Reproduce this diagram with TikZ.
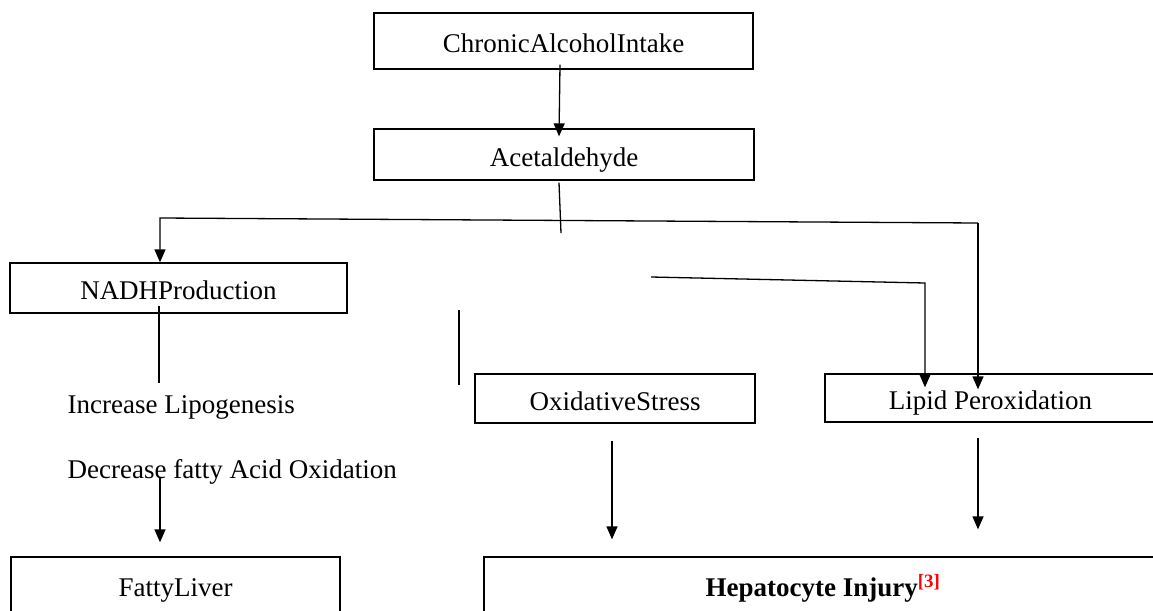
\documentclass[tikz,border=0pt]{standalone}
\usepackage{fontspec}
\setmainfont{Liberation Serif}
\usetikzlibrary{arrows.meta,calc}
\begin{document}
\begin{tikzpicture}[x=1pt,y=-1pt,line width=1.3pt,
  box/.style={draw,line width=1.3pt,inner sep=0pt,text height=25pt,text depth=2pt,font=\fontsize{27}{32}\selectfont},
  lbl/.style={inner sep=0pt,font=\fontsize{27}{32}\selectfont},
  arr/.style={-{Triangle[width=11pt,length=13pt]}}]
\useasboundingbox (0,0) rectangle (1153,610);
\clip (0,0) rectangle (1153,610);
% boxes
\node[box,minimum width=379pt,minimum height=56pt] (cai) at (563.5,41) {ChronicAlcoholIntake};
\node[box,minimum width=380pt,minimum height=51pt] (ace) at (564,154.5) {Acetaldehyde};
\node[box,minimum width=337pt,minimum height=50pt] (nadh) at (178.5,288) {NADHProduction};
\node[box,minimum width=280pt,minimum height=49pt] (ox) at (615,398.5) {OxidativeStress};
\node[box,minimum width=331pt,minimum height=48pt] (lp) at (990.5,398) {Lipid Peroxidation};
\node[box,minimum width=329pt,minimum height=56pt] (fl) at (175.5,585) {FattyLiver};
\node[box,minimum width=678pt,minimum height=56pt] (hi) at (823,585) {\textbf{Hepatocyte Injury}\textsuperscript{\textcolor{red}{\textbf{[3]}}}};
% plain texts
\node[lbl,anchor=base west] (inc) at (67,413) {Increase Lipogenesis};
\node[lbl,anchor=base west] (dec) at (67,478) {Decrease fatty Acid Oxidation};
% free ends
\coordinate (aceEnd) at (561,233);
\coordinate (hL) at (160,218);
\coordinate (hR) at (978,223);
\coordinate (nadhEnd) at (159,383);
\coordinate (vA) at (459,310);
\coordinate (vB) at (459,385);
\coordinate (mA) at (651,277);
\coordinate (mB) at (925,283);
% connectors
\draw[arr] ([xshift=-3.5pt,yshift=5pt]cai.south) -- ([xshift=-5pt,yshift=-8pt]ace.north);
\draw ([xshift=-5pt,yshift=-2pt]ace.south) -- (aceEnd);
\draw[arr] (hR) -- (hL) -- (hL |- nadh.north);
\draw[arr] (hR) -- ([xshift=-12.5pt,yshift=-16pt]lp.north);
\draw ([xshift=-19.5pt,yshift=8pt]nadh.south) -- (nadhEnd);
\draw[arr] ([xshift=93pt]dec.base west) -- ([xshift=-15.5pt,yshift=14pt]fl.north);
\draw (vA) -- (vB);
\draw[arr] (mA) -- (mB) -- ([xshift=-65.5pt,yshift=-14pt]lp.north);
\draw[arr] ([xshift=-3pt,yshift=-17pt]ox.south) -- ([xshift=-211pt,yshift=17pt]hi.north);
\draw[arr] ([xshift=-12.5pt,yshift=-15pt]lp.south) -- ([xshift=155pt,yshift=27pt]hi.north);
\end{tikzpicture}
\end{document}
